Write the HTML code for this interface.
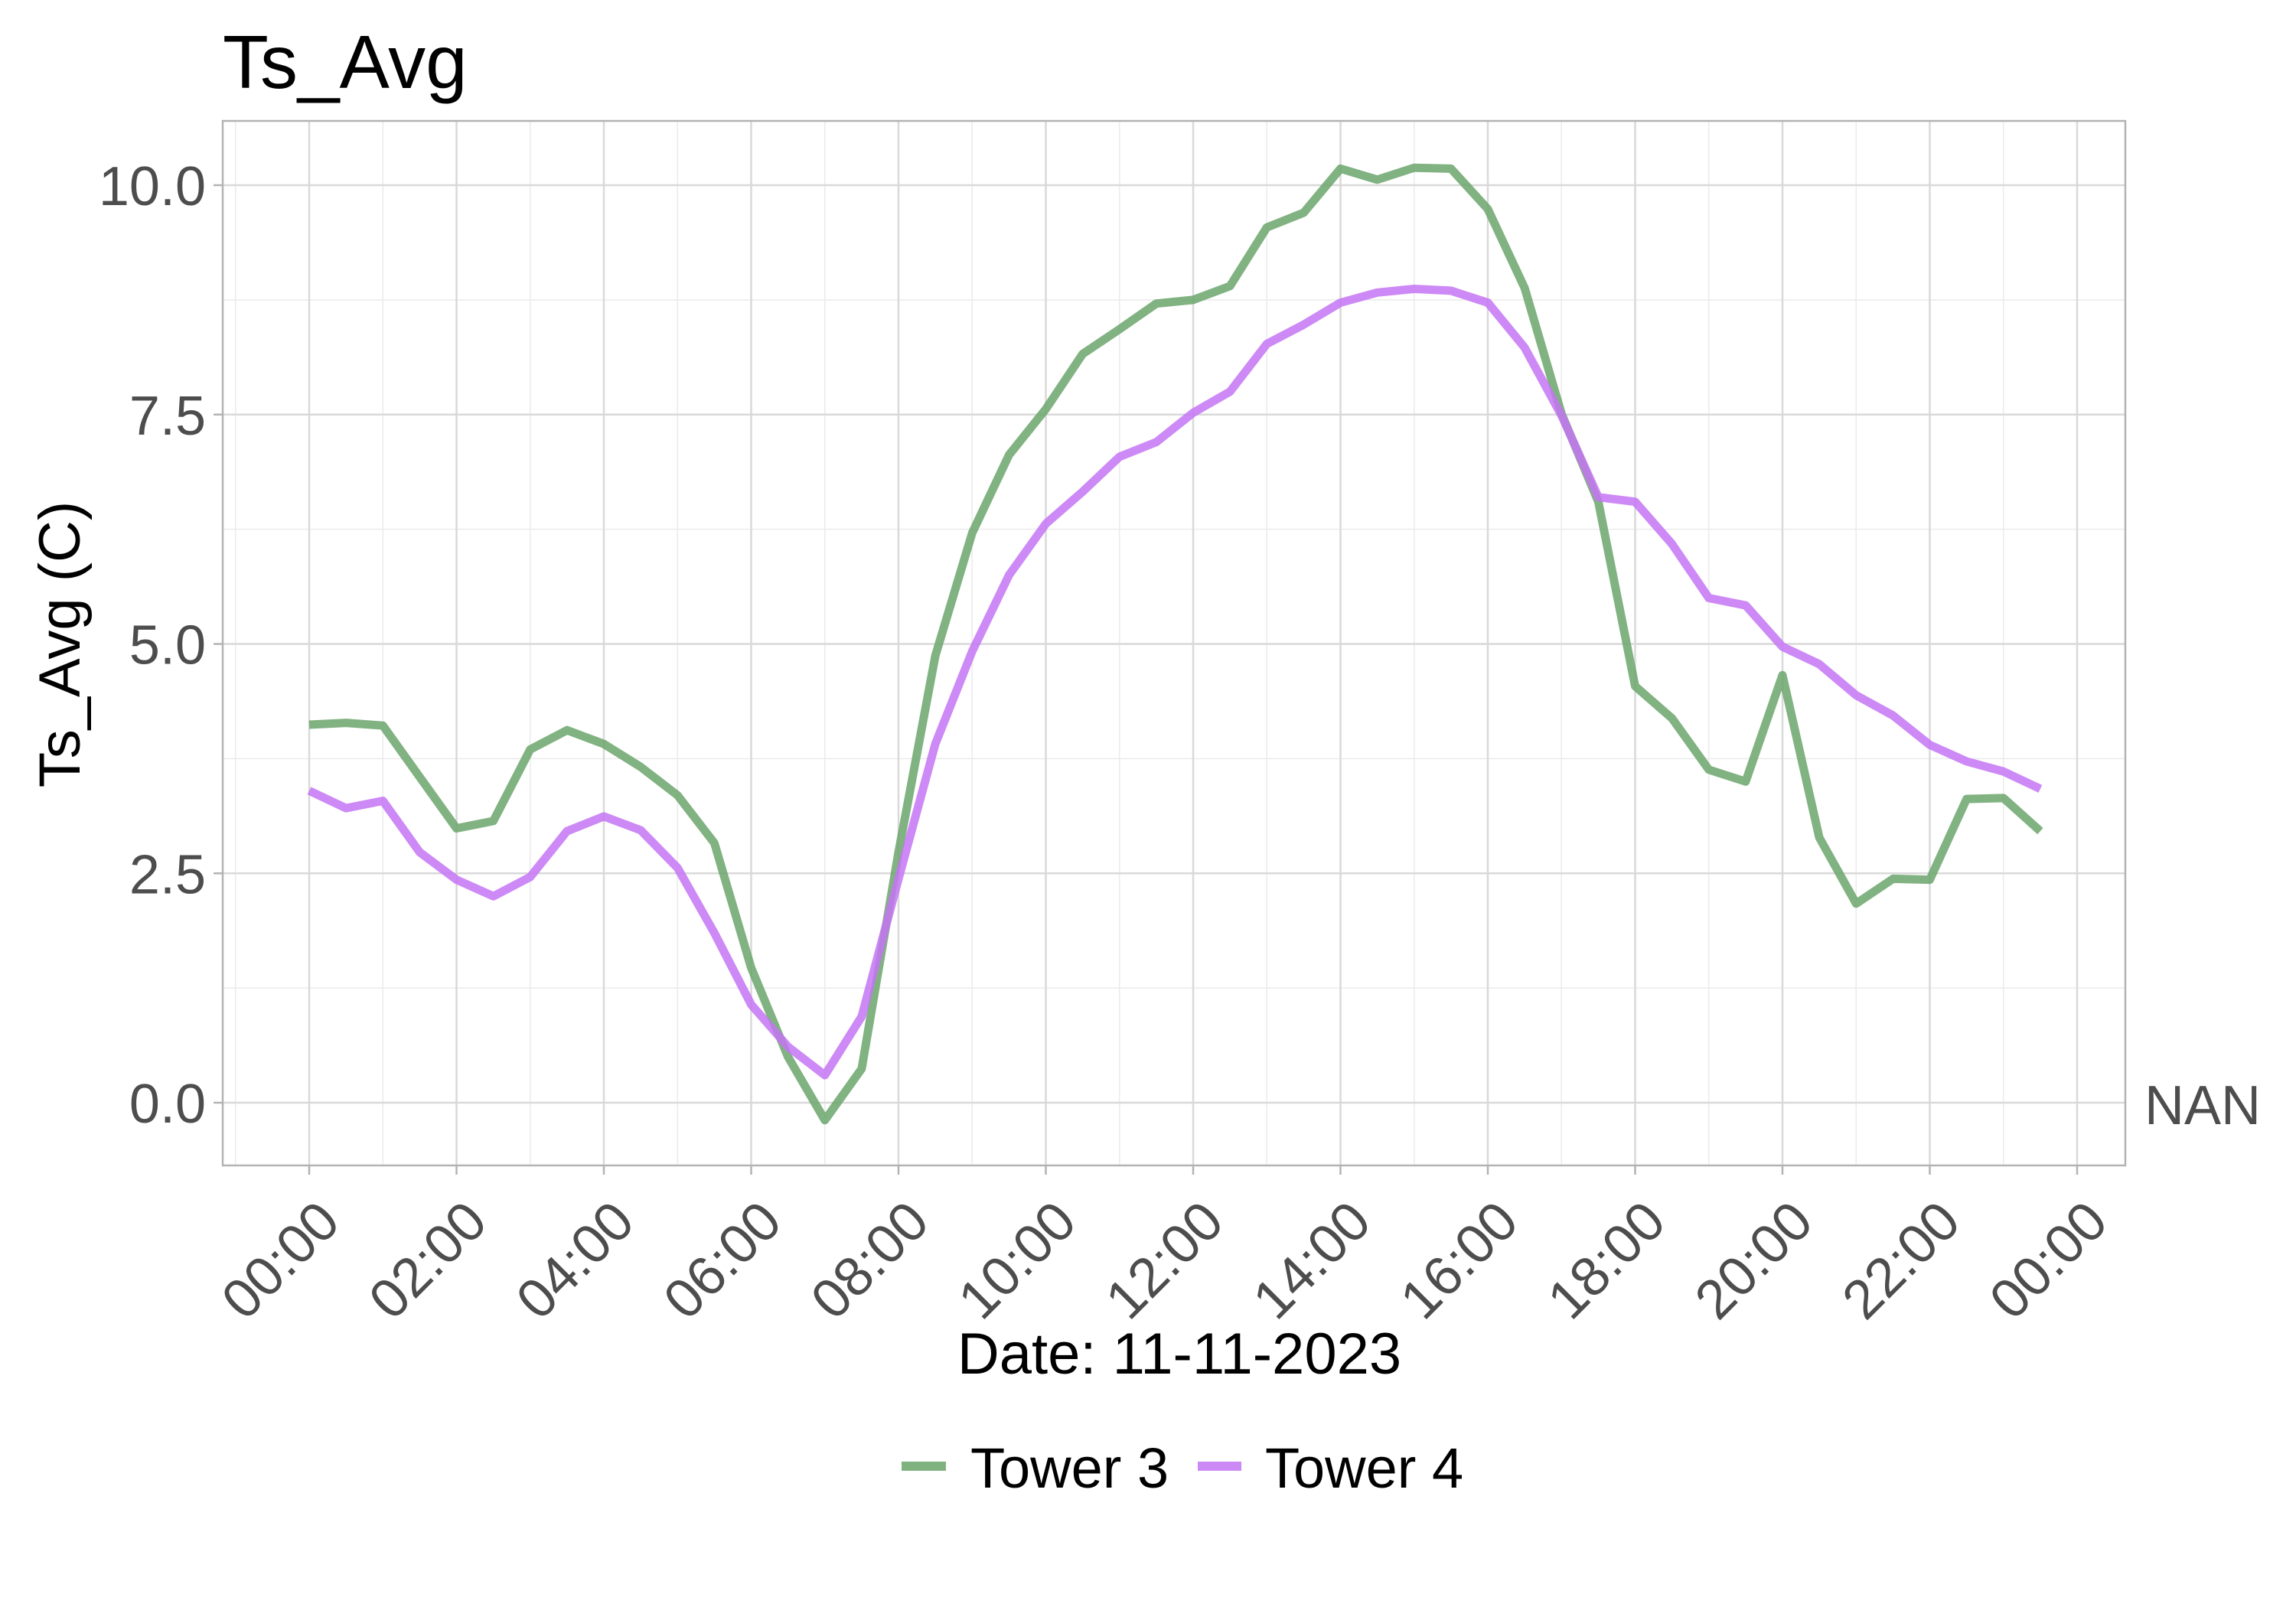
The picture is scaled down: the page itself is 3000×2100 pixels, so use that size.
<!DOCTYPE html>
<html><head><meta charset="utf-8"><style>
html,body{margin:0;padding:0;background:#fff;}
svg{display:block;font-family:"Liberation Sans",sans-serif;}
</style></head><body>
<svg id="chart" width="3000" height="2100" viewBox="0 0 3000 2100" xmlns="http://www.w3.org/2000/svg">
<rect width="3000" height="2100" fill="#fff"/>
<text x="291" y="115" font-size="98" fill="#000">Ts_Avg</text>
<g id="grid"></g>
<g id="series"></g>
<rect x="291" y="158" width="2486" height="1365" fill="none" stroke="#b3b3b3" stroke-width="2.5"/>
<g id="axes"></g>
<text x="2802" y="1469" font-size="72" fill="#4d4d4d">NAN</text>
<text x="78" y="842" font-size="76" fill="#000" text-anchor="middle" transform="rotate(-90 78 842)" dy="26">Ts_Avg (C)</text>
<text x="1541" y="1795" font-size="76" fill="#000" text-anchor="middle">Date: 11-11-2023</text>
<g>
<g>
<line x1="1178" y1="1916" x2="1236" y2="1916" stroke="#7fb27f" stroke-width="12"/>
<text x="1268" y="1944" font-size="74" fill="#000">Tower 3</text>
</g>
<g>
<line x1="1565" y1="1916" x2="1622" y2="1916" stroke="#cc88f5" stroke-width="12"/>
<text x="1653" y="1944" font-size="74" fill="#000">Tower 4</text>
</g>
</g>
</svg>
<script>
const hours = [];
for (let i = 0; i < 48; i++) hours.push(i * 0.5);
const tower3 = [4.12,4.14,4.11,3.55,2.99,3.07,3.85,4.06,3.91,3.66,3.35,2.83,1.47,0.5,-0.19,0.37,2.73,4.87,6.21,7.06,7.56,8.16,8.43,8.71,8.75,8.9,9.54,9.7,10.18,10.06,10.19,10.18,9.74,8.88,7.51,6.55,4.54,4.19,3.63,3.5,4.66,2.89,2.17,2.44,2.43,3.31,3.32,2.96];
const tower4 = [3.40,3.21,3.29,2.73,2.43,2.25,2.46,2.96,3.12,2.97,2.56,1.85,1.07,0.61,0.3,0.94,2.44,3.91,4.92,5.75,6.31,6.66,7.04,7.2,7.52,7.75,8.27,8.48,8.72,8.83,8.87,8.85,8.72,8.23,7.49,6.6,6.55,6.09,5.5,5.42,4.97,4.78,4.44,4.22,3.9,3.72,3.61,3.42];
const yTicks = [0, 2.5, 5, 7.5, 10];
const yTickLabels = ["0.0","2.5","5.0","7.5","10.0"];
const xTicks = [0,2,4,6,8,10,12,14,16,18,20,22,24];
const xTickLabels = ["00:00","02:00","04:00","06:00","08:00","10:00","12:00","14:00","16:00","18:00","20:00","22:00","00:00"];

const NS = "http://www.w3.org/2000/svg";
const X = h => 404 + h * 96.25;
const Y = v => 1441 - v * 119.9;
const PL = 291, PR = 2777, PT = 158, PB = 1523;
function mk(tag, attrs, parent) {
  const e = document.createElementNS(NS, tag);
  for (const k in attrs) e.setAttribute(k, attrs[k]);
  parent.appendChild(e);
  return e;
}
const grid = document.getElementById('grid');
const axes = document.getElementById('axes');
const series = document.getElementById('series');
for (let h = -1; h <= 25; h += 2) {
  const x = X(h);
  if (x < PL || x > PR) continue;
  const l = mk('line', {x1:x, x2:x, y1:PT, y2:PB, stroke:'#ebebeb', 'stroke-width':1.5}, grid);
  
  
}
for (let v = -1.25; v <= 11.25; v += 2.5) {
  const y = Y(v);
  if (y < PT || y > PB) continue;
  const l = mk('line', {x1:PL, x2:PR, y1:y, y2:y, stroke:'#ebebeb', 'stroke-width':1.5}, grid);
  
  
}
xTicks.forEach((h, i) => {
  const x = X(h);
  const l = mk('line', {x1:x, x2:x, y1:PT, y2:PB, stroke:'#d9d9d9', 'stroke-width':2.5}, grid);
  
  
  const t = mk('line', {x1:x, x2:x, y1:PB, y2:PB + 12, stroke:'#b3b3b3', 'stroke-width':2.5}, axes);
  
  
  const tx = x + 18, ty = PB + 52;
  const lab = mk('text', {x:tx, y:ty, 'font-size':72, fill:'#4d4d4d', 'text-anchor':'end', transform:'rotate(-45 ' + tx + ' ' + ty + ')', dy:'0.5em'}, axes);
  lab.textContent = xTickLabels[i];
  
  
});
yTicks.forEach((v, i) => {
  const y = Y(v);
  const l = mk('line', {x1:PL, x2:PR, y1:y, y2:y, stroke:'#d9d9d9', 'stroke-width':2.5}, grid);
  
  
  const t = mk('line', {x1:PL - 12, x2:PL, y1:y, y2:y, stroke:'#b3b3b3', 'stroke-width':2.5}, axes);
  
  
  const lab = mk('text', {x:PL - 22, y:y + 26, 'font-size':72, fill:'#4d4d4d', 'text-anchor':'end'}, axes);
  lab.textContent = yTickLabels[i];
  
  
});
function path(vals, color, name) {
  const d = vals.map((v, i) => (i ? 'L' : 'M') + X(hours[i]).toFixed(1) + ' ' + Y(v).toFixed(1)).join(' ');
  const p = mk('path', {d:d, fill:'none', stroke:color, 'stroke-width':11, 'stroke-opacity':0.85, 'stroke-linejoin':'round'}, series);
  
  
}
path(tower3, 'rgb(107,165,107)', 'tower-3-line');
path(tower4, 'rgb(196,116,243)', 'tower-4-line');
</script>
</body></html>
